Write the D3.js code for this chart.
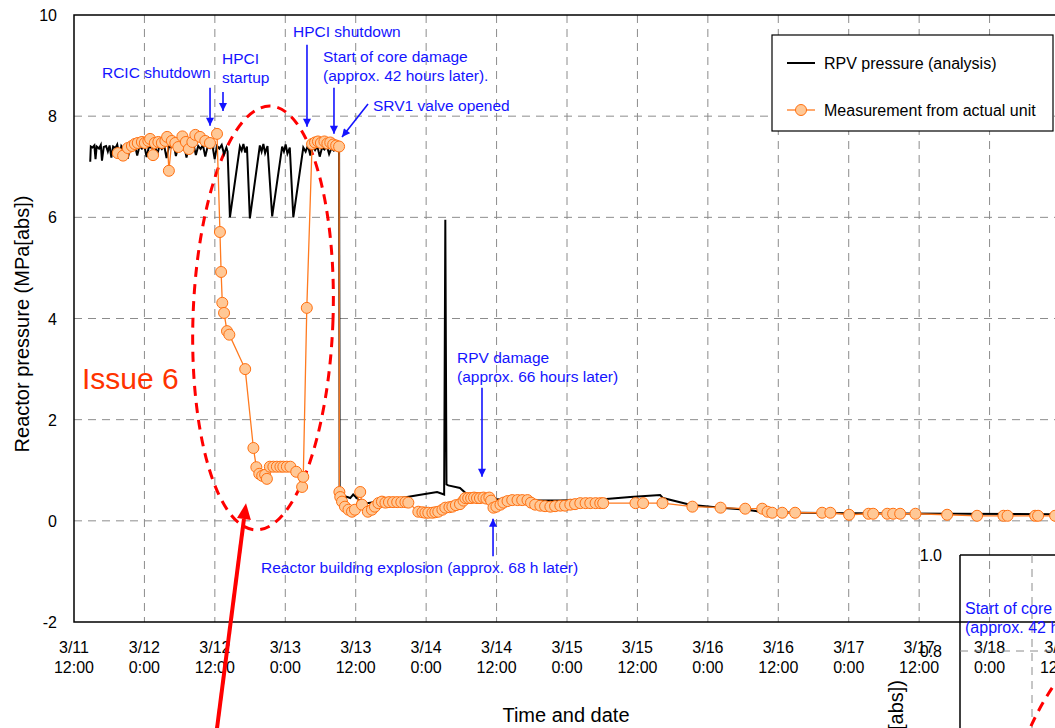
<!DOCTYPE html>
<html>
<head>
<meta charset="utf-8">
<script src="https://cdn.jsdelivr.net/npm/d3@7"></script>
<style>
  body { margin: 0; background: #fff; }
  text { font-family: "Liberation Sans", Arial, sans-serif; }
</style>
</head>
<body>
<svg id="chart" width="1055" height="728"></svg>
<script>
// hours after the earthquake (3/11 14:46), pressure in MPa[abs]
const quakeTime = new Date(2011, 2, 11, 14, 46);

const analysisSeries = [
  [0,7.10],[0.1,7.40],[0.4,7.38],[0.7,7.42],[0.9,7.15],[1.1,7.40],[1.5,7.36],[1.8,7.43],[2.0,7.12],[2.3,7.39],
  [2.7,7.41],[3.0,7.30],[3.3,7.42],[3.6,7.18],[3.9,7.40],[4.3,7.37],[4.6,7.44],[5.0,7.20],[5.3,7.41],[5.7,7.35],
  [6.1,7.42],[6.4,7.16],[6.8,7.40],[7.2,7.38],[7.6,7.44],[8.0,7.22],[8.4,7.41],[8.8,7.36],[9.2,7.43],[9.6,7.19],
  [10.0,7.40],[10.5,7.37],[11.0,7.44],[11.4,7.24],[11.8,7.41],[12.2,7.35],[12.6,7.42],[13.0,7.17],[13.4,7.40],[13.8,7.38],
  [14.2,7.45],[14.6,7.21],[15.0,7.41],[15.5,7.36],[16.0,7.43],[16.4,7.18],[16.8,7.40],[17.2,7.38],[17.6,7.44],[18.0,7.23],
  [18.4,7.41],[18.8,7.35],[19.2,7.43],[19.6,7.20],[20.0,7.40],[20.4,7.37],[20.8,7.44],[21.2,7.15],[21.6,7.41],[22.0,7.36],
  [22.4,7.43],[22.8,7.25],[23.2,7.38],[23.4,7.30],[23.8,6.00],[25.5,7.40],[25.8,7.32],[26.1,7.45],[26.4,7.28],[26.7,7.40],
  [27.2,5.98],[28.9,7.42],[29.2,7.30],[29.5,7.45],[29.8,7.27],[30.2,7.41],[31.0,6.02],[32.7,7.40],[33.0,7.30],[33.3,7.44],
  [33.6,7.26],[34.0,7.38],[34.6,6.00],[36.3,7.38],[36.7,7.30],[37.1,7.42],[37.5,7.22],[37.9,7.40],[38.3,7.33],[38.7,7.41],
  [39.1,7.20],[39.5,7.38],[39.9,7.34],[40.3,7.42],[40.7,7.25],[41.1,7.37],[41.5,7.32],[41.9,7.36],[42.4,7.30],[42.5,0.60],
  [43.0,0.50],[44.3,0.45],[44.8,0.52],[45.7,0.42],[47.2,0.35],[50.0,0.40],[53.0,0.45],[56.0,0.51],[59.1,0.57],[60.3,0.52],
  [60.5,5.95],[60.7,0.72],[61.0,0.70],[63.0,0.65],[64.7,0.47],[66.0,0.45],[69.9,0.42],[75.0,0.40],[80.1,0.40],[86.9,0.42],
  [92.0,0.47],[97.1,0.51],[97.6,0.45],[102.2,0.32],[107.4,0.26],[111.9,0.22],[114.2,0.18],[120.5,0.16],[129.5,0.15],[146.6,0.14],
  [165.4,0.13]
];

const measuredSeries = [
  [4.7,7.27],[5.6,7.22],[6.4,7.37],[7.1,7.41],[7.6,7.45],[8.1,7.47],[8.8,7.49],[9.3,7.47],[9.9,7.51],[10.2,7.55],
  [10.7,7.23],[11.0,7.47],[11.6,7.49],[12.2,7.47],[12.8,7.51],[13.1,7.59],[13.4,6.92],[13.9,7.51],[14.5,7.47],[15.0,7.39],
  [15.7,7.60],[16.3,7.49],[16.8,7.35],[17.4,7.49],[17.9,7.63],[18.7,7.59],[19.6,7.51],[20.4,7.47],[21.6,7.65],[22.1,5.71],
  [22.3,4.92],[22.5,4.31],[22.8,4.11],[23.3,3.75],[23.7,3.68],[26.4,3.00],[27.8,1.44],[28.3,1.06],[28.8,0.93],[29.3,0.89],
  [29.8,0.91],[30.1,0.83],[30.6,1.07],[31.2,1.07],[31.8,1.07],[32.4,1.07],[32.9,1.07],[33.5,1.07],[34.1,1.07],[35.1,0.97],
  [36.1,0.67],[36.3,0.87],[36.9,4.21],[37.8,7.45],[38.3,7.48],[38.8,7.50],[39.3,7.47],[39.9,7.50],[40.4,7.46],[40.9,7.48],
  [41.4,7.44],[41.9,7.42],[42.4,7.40],[42.45,0.57],[42.6,0.47],[42.9,0.38],[43.4,0.28],[44.0,0.22],[44.6,0.18],[45.1,0.22],
  [46.0,0.57],[46.3,0.32],[47.3,0.18],[48.0,0.22],[48.5,0.28],[49.1,0.35],[49.7,0.38],[50.3,0.36],[50.9,0.37],[51.6,0.37],
  [52.3,0.37],[53.0,0.37],[53.7,0.37],[54.2,0.36],[55.9,0.18],[56.6,0.17],[57.1,0.16],[57.6,0.16],[58.3,0.16],[58.8,0.17],
  [59.3,0.18],[60.0,0.22],[60.5,0.26],[61.2,0.27],[61.7,0.28],[62.3,0.31],[63.0,0.33],[63.6,0.40],[63.9,0.45],[64.4,0.45],
  [64.9,0.45],[65.4,0.46],[65.9,0.45],[66.4,0.45],[67.0,0.46],[67.5,0.44],[68.0,0.46],[68.3,0.40],[68.7,0.26],[69.2,0.28],
  [69.9,0.32],[70.4,0.36],[71.1,0.39],[71.9,0.41],[72.8,0.41],[73.6,0.41],[74.5,0.41],[75.1,0.36],[75.8,0.32],[76.7,0.30],
  [77.5,0.29],[78.4,0.28],[79.2,0.29],[80.1,0.30],[80.9,0.30],[81.8,0.32],[82.6,0.33],[83.5,0.35],[84.4,0.35],[85.2,0.35],
  [86.1,0.35],[86.9,0.35],[87.4,0.35],[92.9,0.35],[94.2,0.35],[97.5,0.35],[102.6,0.28],[107.4,0.26],[111.6,0.24],[114.5,0.24],
  [115.4,0.18],[116.2,0.16],[117.9,0.16],[120.1,0.16],[124.7,0.16],[126.1,0.16],[129.3,0.12],[132.6,0.14],[133.4,0.14],[135.8,0.14],
  [136.8,0.14],[138.0,0.14],[140.6,0.14],[146.0,0.12],[151.1,0.10],[155.6,0.10],[156.3,0.10],[161.0,0.10],[161.5,0.10],[164.4,0.10]
];

const yTicks = [-2, 0, 2, 4, 6, 8, 10];
const seriesNames = ['RPV pressure (analysis)', 'Measurement from actual unit'];

// annotations: text at (hours, MPa), arrow from -> to in (hours, MPa)
const notes = [
  { lines: ['RCIC shutdown'], at: [2.0, 8.75], from: [20.41, 8.56], to: [20.41, 7.81] },
  { lines: ['HPCI', 'startup'], at: [22.45, 9.03], from: [22.62, 8.48], to: [22.62, 8.10] },
  { lines: ['HPCI shutdown'], at: [34.55, 9.56], from: [36.93, 9.41], to: [36.93, 7.79] },
  { lines: ['Start of core damage', '(approx. 42 hours later).'], at: [39.66, 9.07], from: [41.53, 8.56], to: [41.53, 7.65] },
  { lines: ['SRV1 valve opened'], at: [48.18, 8.10], from: [47.33, 8.24], to: [42.90, 7.59] },
  { lines: ['RPV damage', '(approx. 66 hours later)'], at: [62.49, 3.12], from: [66.75, 2.63], to: [66.75, 0.87] },
  { lines: ['Reactor building explosion (approx. 68 h later)'], at: [29.1, -1.03], from: [68.63, -0.70], to: [68.63, 0.04] }
];

const toDate = h => new Date(quakeTime.getTime() + h * 3600e3);

const svg = d3.select('#chart');
const W = 1055, H = 728;
const plotLeft = 74, plotTop = 15, plotBottom = 622;

const x = d3.scaleTime()
  .domain([new Date(2011, 2, 11, 12), new Date(2011, 2, 18, 12)])
  .range([plotLeft, 1060]);
const y = d3.scaleLinear().domain([-2, 10]).range([plotBottom, plotTop]);
const X = h => x(toDate(h));

svg.append('rect').attr('width', W).attr('height', H).attr('fill', '#fff');

const defs = svg.append('defs');
defs.append('marker').attr('id', 'blueHead')
  .attr('viewBox', '0 0 10 10').attr('refX', 10).attr('refY', 5)
  .attr('markerWidth', 9).attr('markerHeight', 8).attr('markerUnits', 'userSpaceOnUse')
  .attr('orient', 'auto')
  .append('path').attr('d', 'M0,0 L10,5 L0,10 Z').attr('fill', '#1414ff');

// grid
const xTicks = x.ticks(d3.timeHour.every(12));
svg.append('g').selectAll('line').data(xTicks.slice(1)).enter().append('line')
  .attr('x1', d => x(d)).attr('x2', d => x(d))
  .attr('y1', plotTop).attr('y2', plotBottom)
  .attr('stroke', '#8c8c8c').attr('stroke-dasharray', '8,6');
svg.append('g').selectAll('line').data(yTicks.slice(1, -1)).enter().append('line')
  .attr('x1', plotLeft).attr('x2', W)
  .attr('y1', d => y(d)).attr('y2', d => y(d))
  .attr('stroke', '#8c8c8c').attr('stroke-dasharray', '8,6');

// frame
svg.append('path')
  .attr('d', `M${W},${plotTop}H${plotLeft}V${plotBottom}H${W}`)
  .attr('fill', 'none').attr('stroke', '#000').attr('stroke-width', 1.5);

// tick labels
svg.append('g').selectAll('text').data(yTicks).enter().append('text')
  .attr('x', 57).attr('y', d => y(d) + 6)
  .attr('text-anchor', 'end').attr('font-size', 16)
  .text(d => d);

const fmtDay = d3.timeFormat('%-m/%-d');
const fmtHour = d3.timeFormat('%-H:%M');
const xl = svg.append('g').selectAll('text').data(xTicks).enter().append('text')
  .attr('text-anchor', 'middle').attr('font-size', 16);
xl.append('tspan').attr('x', d => x(d)).attr('y', 653).text(d => fmtDay(d));
xl.append('tspan').attr('x', d => x(d)).attr('y', 673).text(d => fmtHour(d));

// axis titles
svg.append('text').attr('x', 566).attr('y', 722).attr('text-anchor', 'middle')
  .attr('font-size', 20).text('Time and date');
svg.append('text').attr('transform', 'translate(29,324) rotate(-90)')
  .attr('text-anchor', 'middle').attr('font-size', 20)
  .text('Reactor pressure (MPa[abs])');

// inset (lower right, mostly outside the picture)
const iy = d3.scaleLinear().domain([0.8, 1.0]).range([651, 555]);
const ix = d3.scaleLinear().domain([41, 45]).range([960, 1152]);
const inset = svg.append('g');
inset.append('line').attr('x1', ix(41)).attr('x2', ix(41)).attr('y1', iy(1.0)).attr('y2', H)
  .attr('stroke', '#000').attr('stroke-width', 1.5);
inset.append('line').attr('x1', ix(41)).attr('x2', W).attr('y1', iy(1.0)).attr('y2', iy(1.0))
  .attr('stroke', '#000').attr('stroke-width', 1.5);
inset.append('line').attr('x1', ix(41)).attr('x2', W).attr('y1', iy(0.8)).attr('y2', iy(0.8))
  .attr('stroke', '#8c8c8c').attr('stroke-dasharray', '8,6');
inset.append('line').attr('x1', ix(42.5)).attr('x2', ix(42.5)).attr('y1', iy(1.0)).attr('y2', H)
  .attr('stroke', '#8c8c8c').attr('stroke-dasharray', '8,6');
inset.selectAll('text.it').data([1.0, 0.8]).enter().append('text')
  .attr('x', 942).attr('y', d => iy(d) + 6).attr('text-anchor', 'end').attr('font-size', 16)
  .text(d => d.toFixed(1));
const it = inset.append('text').attr('fill', '#1414ff').attr('font-size', 16);
it.append('tspan').attr('x', 965).attr('y', 614).text('Start of core damage');
it.append('tspan').attr('x', 965).attr('y', 633).text('(approx. 42 hours later).');
inset.append('text').attr('transform', 'translate(903,680) rotate(-90)')
  .attr('text-anchor', 'end').attr('font-size', 20).text('Reactor pressure (MPa[abs])');
inset.append('path').attr('d', 'M1062,674 Q1042,700 1027,735')
  .attr('fill', 'none').attr('stroke', '#ff0000').attr('stroke-width', 3).attr('stroke-dasharray', '10,7');

// Issue 6 ellipse
svg.append('ellipse')
  .attr('transform', `translate(${X(29.44)},${y(4.01)}) rotate(2)`)
  .attr('rx', 70).attr('ry', 212)
  .attr('fill', 'none').attr('stroke', '#ff0000').attr('stroke-width', 3)
  .attr('stroke-dasharray', '10,7');

// analysis line
const line = d3.line().x(d => X(d[0])).y(d => y(d[1]));
svg.append('path').datum(analysisSeries).attr('d', line)
  .attr('fill', 'none').attr('stroke', '#000').attr('stroke-width', 2);

// measurement
svg.append('path').datum(measuredSeries).attr('d', line)
  .attr('fill', 'none').attr('stroke', '#ff7a1f').attr('stroke-width', 1.3);
svg.append('g').selectAll('circle').data(measuredSeries).enter().append('circle')
  .attr('cx', d => X(d[0])).attr('cy', d => y(d[1])).attr('r', 5.5)
  .attr('fill', '#ffc896').attr('stroke', '#ff7010').attr('stroke-width', 1);

// annotations
const ann = svg.append('g');
notes.forEach(n => {
  const t = ann.append('text').attr('fill', '#1414ff').attr('font-size', 15.5);
  n.lines.forEach((s, i) => {
    t.append('tspan').attr('x', X(n.at[0])).attr('y', y(n.at[1]) + i * 19).text(s);
  });
  ann.append('line')
    .attr('x1', X(n.from[0])).attr('y1', y(n.from[1]))
    .attr('x2', X(n.to[0])).attr('y2', y(n.to[1]))
    .attr('stroke', '#1414ff').attr('stroke-width', 1.6)
    .attr('marker-end', 'url(#blueHead)');
});

svg.append('text').attr('x', X(-1.4)).attr('y', y(2.61))
  .attr('fill', '#ff3300').attr('font-size', 30).text('Issue 6');

// legend
const lg = svg.append('g');
lg.append('rect').attr('x', 772).attr('y', 35).attr('width', 281).attr('height', 96)
  .attr('fill', '#fff').attr('stroke', '#000').attr('stroke-width', 1.2);
lg.append('line').attr('x1', 787).attr('x2', 815).attr('y1', 63).attr('y2', 63)
  .attr('stroke', '#000').attr('stroke-width', 2);
lg.append('line').attr('x1', 787).attr('x2', 815).attr('y1', 110).attr('y2', 110)
  .attr('stroke', '#ff7a1f').attr('stroke-width', 1.3);
lg.append('circle').attr('cx', 801).attr('cy', 110).attr('r', 5.5)
  .attr('fill', '#ffc896').attr('stroke', '#ff7010');
lg.selectAll('text').data(seriesNames).enter().append('text')
  .attr('x', 824).attr('y', (d, i) => 69 + i * 47).attr('font-size', 16).text(d => d);

// red arrow pointing at the ellipse
const ra = [X(21.6), y(-4.1)], rb = [X(26.54), y(0.35)];
const ang = Math.atan2(rb[1] - ra[1], rb[0] - ra[0]);
const hl = 16, hw = 7;
const base = [rb[0] - hl * Math.cos(ang), rb[1] - hl * Math.sin(ang)];
svg.append('line').attr('x1', ra[0]).attr('y1', ra[1]).attr('x2', base[0]).attr('y2', base[1])
  .attr('stroke', '#ff0000').attr('stroke-width', 4);
svg.append('path')
  .attr('d', `M${rb[0]},${rb[1]}L${base[0] + hw * Math.sin(ang)},${base[1] - hw * Math.cos(ang)}L${base[0] - hw * Math.sin(ang)},${base[1] + hw * Math.cos(ang)}Z`)
  .attr('fill', '#ff0000');
</script>
</body>
</html>
